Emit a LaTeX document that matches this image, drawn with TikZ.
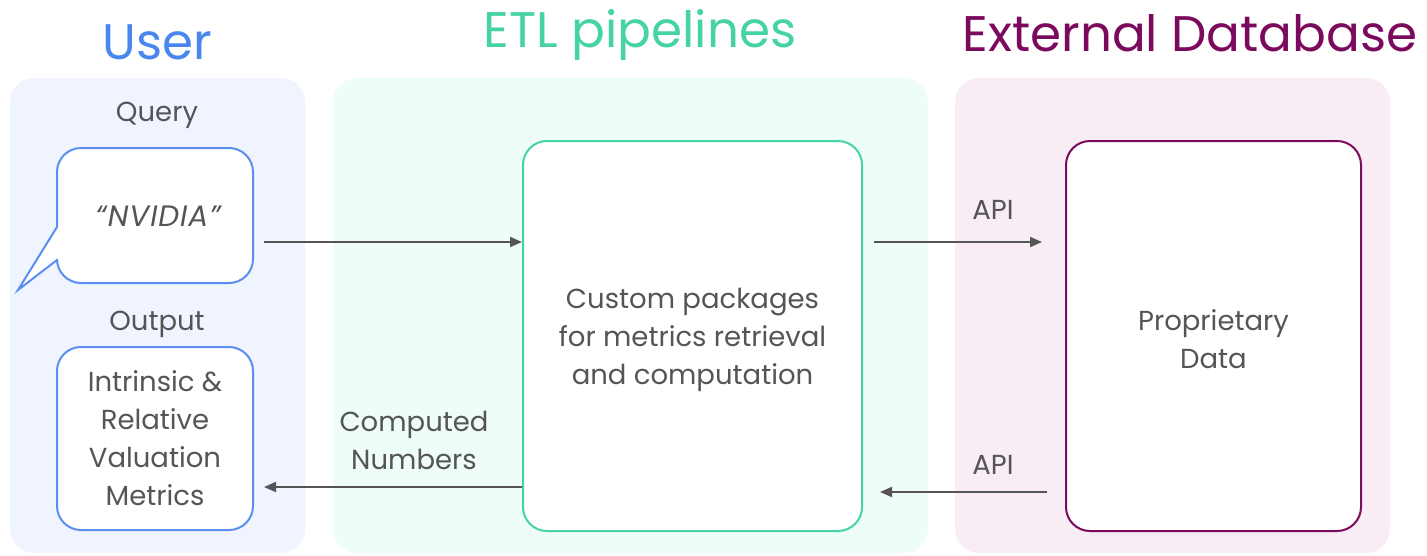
\documentclass[tikz,border=0pt]{standalone}
\usepackage{fontspec}
\setmainfont{Poppins}
\usetikzlibrary{arrows.meta}
\definecolor{userblue}{HTML}{4A86F0}
\definecolor{userfill}{HTML}{EFF4FE}
\definecolor{etlgreen}{HTML}{45D3A3}
\definecolor{etlfill}{HTML}{EFFDF8}
\definecolor{dbpurple}{HTML}{7B0A5E}
\definecolor{dbfill}{HTML}{F8ECF5}
\definecolor{textgray}{HTML}{555555}
\definecolor{boxblue}{HTML}{5B8EF0}
\tikzset{
  panel/.style={rounded corners=24pt, draw=none},
  title/.style={font=\fontsize{50}{60}\selectfont, anchor=center},
  label/.style={text=textgray, font=\fontsize{27.5}{38}\selectfont, align=center},
  box/.style={draw, line width=2pt, rounded corners=24pt, fill=white},
  flow/.style={draw=textgray, line width=1.8pt, -{Triangle[length=12pt,width=10pt]}},
}
\begin{document}
\begin{tikzpicture}[x=1pt,y=-1pt]
\useasboundingbox (0,0) rectangle (1427,555);

% column backgrounds
\fill[userfill, panel] (10,78) rectangle (305,553);
\fill[etlfill, panel] (333,78) rectangle (928,553);
\fill[dbfill, panel] (955,78) rectangle (1390,553);

% column titles
\node[title, text=userblue] (tuser) at (157,42) {User};
\node[title, text=etlgreen] (tetl) at (640,35) {ETL pipelines};
\node[title, text=dbpurple] (tdb) at (1190,33) {External Database};

% user column
\node[label] (lquery) at (157,115) {Query};
\draw[boxblue, line width=2pt, fill=white]
  (57,227) -- (18,290) -- (57,260)
  [rounded corners=24pt] -- (57,283) -- (253,283) -- (253,148) -- (57,148)
  [sharp corners] -- cycle;
\node[minimum width=196pt, minimum height=135pt, inner sep=0pt,
      text=textgray, font=\fontsize{29.5}{38}\selectfont\itshape\addfontfeature{LetterSpace=3}]
  (query) at (158,216) {“NVIDIA”};

\node[label] (loutput) at (157,324) {Output};
\node[box, draw=boxblue, minimum width=196pt, minimum height=183pt, label]
  (output) at (155,438.5) {Intrinsic \&\\Relative\\Valuation\\Metrics};

% ETL column
\node[box, draw=etlgreen, minimum width=339pt, minimum height=390pt]
  (etl) at (692.5,336) {};
\node[label] (etltext) at (692.5,340)
  {Custom packages\\for metrics retrieval\\and computation};

% database column
\node[box, draw=dbpurple, minimum width=295pt, minimum height=390pt]
  (db) at (1213.5,336) {};
\node[label] (dbtext) at (1213.5,339) {Proprietary\\Data};

% connectors
\coordinate (qout) at (264,242);
\coordinate (etlin) at (etl.west |- qout);
\draw[flow] (qout) -- (etlin);

\coordinate (outin) at (264,487);
\coordinate (etlout) at (etl.west |- outin);
\draw[flow] (etlout) -- (outin);
\node[label] (lnum) at (414,440) {Computed\\Numbers};

\coordinate (apiout) at (874,242);
\coordinate (apiin) at (1042,242);
\draw[flow] (apiout) -- (apiin);
\node[label] (lapi1) at (993,210) {API};

\coordinate (retout) at (1047,492);
\coordinate (retin) at (880,492);
\draw[flow] (retout) -- (retin);
\node[label] (lapi2) at (993,465) {API};
\end{tikzpicture}
\end{document}
